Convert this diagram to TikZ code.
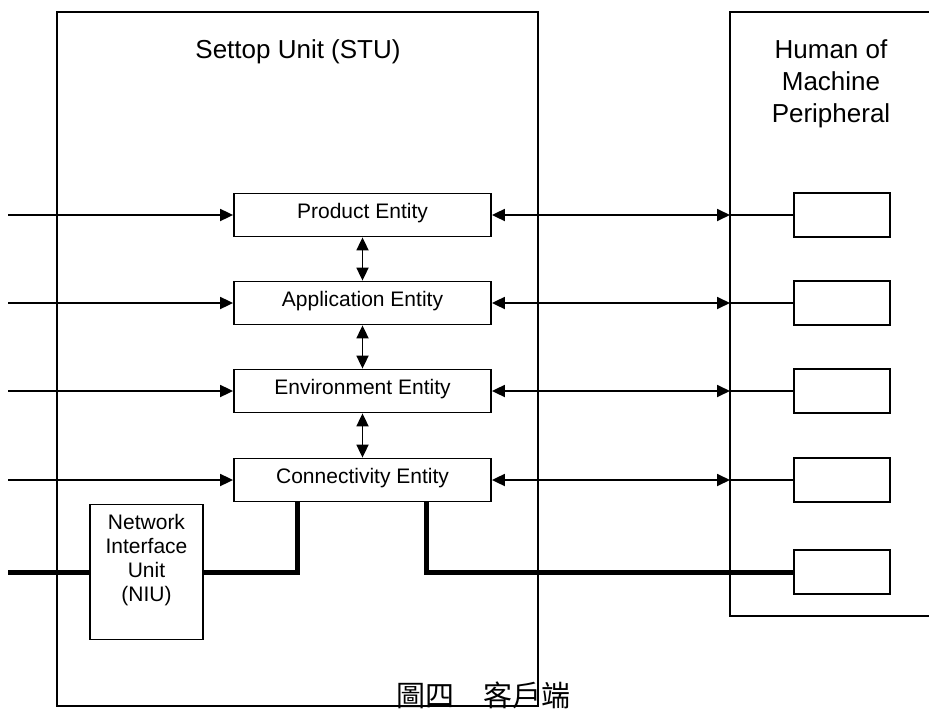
\documentclass[tikz,border=0pt]{standalone}
\usepackage{fontspec}
\setmainfont{Liberation Sans}
\newfontfamily\cjkfont{Noto Sans CJK TC}
\usetikzlibrary{arrows.meta}

\tikzset{
  entity/.style={draw, line width=1.8bp, minimum width=257bp, minimum height=43bp,
    inner sep=0pt, text height=16bp, text depth=10bp,
    font=\fontsize{21bp}{24bp}\selectfont},
  perbox/.style={draw, line width=1.8bp, minimum width=96bp, minimum height=44bp, inner sep=0pt},
  link/.style={line width=1.8bp},
  bus/.style={line width=5bp},
  tip/.style={-{Triangle[length=13bp,width=12bp]}},
  both/.style={{Triangle[length=13bp,width=12bp]}-{Triangle[length=13bp,width=12bp]}},
}

\begin{document}
\begin{tikzpicture}[x=1bp,y=-1bp]

   \useasboundingbox (0,0) rectangle (929,709);

   % the two units
   \draw[line width=2.2bp] (57,12) rectangle (538,706);
   \draw[line width=2.2bp] (929,12) -- (730,12) -- (730,616) -- (929,616);
   \node[font=\fontsize{26bp}{32bp}\selectfont] (stutitle) at (298,52) {Settop Unit (STU)};
   \node[font=\fontsize{26bp}{32bp}\selectfont, align=center] (hmptitle) at (831,84) {Human of\\Machine\\Peripheral};

   % entities
   \node[entity] (prod) at (362.5,215) {Product Entity};
   \node[entity] (app)  at (362.5,303) {Application Entity};
   \node[entity] (env)  at (362.5,391) {Environment Entity};
   \node[entity] (conn) at (362.5,480) {Connectivity Entity};

   \node[draw, line width=1.8bp, minimum width=113bp, minimum height=135bp,
     label={[yshift=12bp, align=center, font=\fontsize{21bp}{24bp}\selectfont]center:Network\\Interface\\Unit\\(NIU)}] (niu) at (146.5,572) {};

   % peripherals
   \node[perbox] (p1) at (842,215) {};
   \node[perbox] (p2) at (842,303) {};
   \node[perbox] (p3) at (842,391) {};
   \node[perbox] (p4) at (842,480) {};
   \node[perbox] (p5) at (842,572) {};

   \coordinate (in1) at (8,215);
   \coordinate (in2) at (8,303);
   \coordinate (in3) at (8,391);
   \coordinate (in4) at (8,480);
   \coordinate (h1) at (730,215);
   \coordinate (h2) at (730,303);
   \coordinate (h3) at (730,391);
   \coordinate (h4) at (730,480);
   \coordinate (net) at (8,572);
   \coordinate (c1) at (297,502);
   \coordinate (c2) at (426,502);

   % inputs
   \draw[link,tip] (in1) -- (prod.west);
   \draw[link,tip] (in2) -- (app.west);
   \draw[link,tip] (in3) -- (env.west);
   \draw[link,tip] (in4) -- (conn.west);

   % between entities
   \draw[link,both] (prod.south) -- (app.north);
   \draw[link,both] (app.south) -- (env.north);
   \draw[link,both] (env.south) -- (conn.north);

   % to the peripherals
   \draw[link,both] (prod.east) -- (h1);
   \draw[link,both] (app.east) -- (h2);
   \draw[link,both] (env.east) -- (h3);
   \draw[link,both] (conn.east) -- (h4);
   \draw[link] (h1) -- (p1.west);
   \draw[link] (h2) -- (p2.west);
   \draw[link] (h3) -- (p3.west);
   \draw[link] (h4) -- (p4.west);

   % network bus
   \draw[bus] (net) -- (niu.west);
   \draw[bus] (niu.east) -| (c1);
   \draw[bus] (c2) |- (p5.west);

   \node[font=\fontsize{29bp}{32bp}\cjkfont] (caption) at (483,695) {圖四　客戶端};

\end{tikzpicture}
\end{document}
